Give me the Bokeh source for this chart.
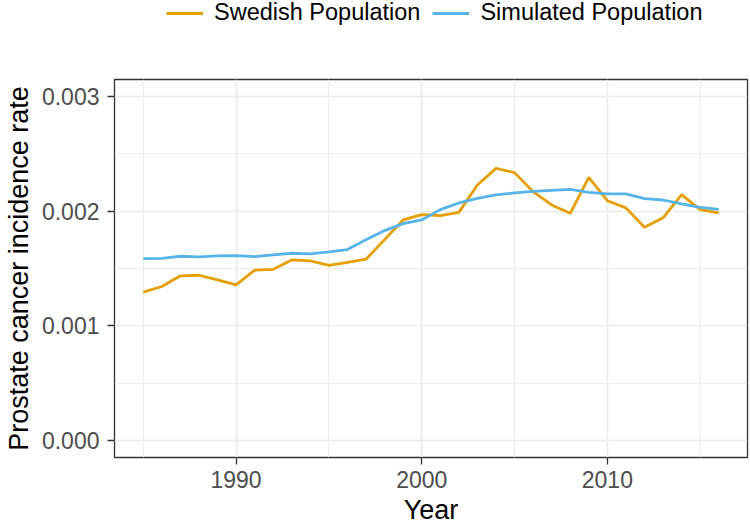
from bokeh.plotting import figure
from bokeh.layouts import column
from bokeh.models import (Legend, LegendItem, FixedTicker, PrintfTickFormatter,
                          Range1d, ColumnDataSource)
from bokeh.embed import file_html
from bokeh.resources import INLINE

years = list(range(1985, 2017))
swedish = [1.293, 1.343, 1.436, 1.441, 1.401, 1.357, 1.485, 1.493, 1.575, 1.567,
           1.528, 1.554, 1.581, 1.752, 1.924, 1.970, 1.962, 1.990, 2.229, 2.374,
           2.337, 2.171, 2.055, 1.982, 2.296, 2.092, 2.029, 1.860, 1.942, 2.145,
           2.014, 1.985]
simulated = [1.587, 1.589, 1.607, 1.602, 1.610, 1.613, 1.604, 1.619, 1.633, 1.628,
             1.645, 1.665, 1.752, 1.831, 1.892, 1.924, 2.014, 2.072, 2.112, 2.142,
             2.160, 2.173, 2.182, 2.191, 2.165, 2.151, 2.151, 2.110, 2.098, 2.064,
             2.034, 2.017]
swedish = [v / 1000 for v in swedish]
simulated = [v / 1000 for v in simulated]

series_names = ["Swedish Population", "Simulated Population"]
series_colors = ["#E69F00", "#56B4E9"]

x_ticks = [1990, 2000, 2010]
x_minor = [1985, 1995, 2005, 2015]
y_ticks = [0.000, 0.001, 0.002, 0.003]
y_minor = [0.0005, 0.0015, 0.0025]

FONT = "Liberation Sans"
LW = 2.8
LEG_H = 30

src = ColumnDataSource(dict(year=years, swedish=swedish, simulated=simulated))

# ---- main plot ----
p = figure(width=750, height=527 - LEG_H, output_backend="svg", toolbar_location=None,
           x_range=Range1d(1983.45, 2017.55), y_range=Range1d(-0.00015, 0.00315),
           min_border_left=114, min_border_right=3, min_border_top=79 - LEG_H,
           min_border_bottom=70, background_fill_color="white",
           border_fill_color="white")

p.line("year", "swedish", source=src, line_color=series_colors[0], line_width=LW)
p.line("year", "simulated", source=src, line_color=series_colors[1], line_width=LW)

p.outline_line_color = "#333333"
p.outline_line_width = 1.3

p.xaxis.ticker = FixedTicker(ticks=x_ticks, minor_ticks=x_minor)
p.yaxis.ticker = FixedTicker(ticks=y_ticks, minor_ticks=y_minor)
p.yaxis.formatter = PrintfTickFormatter(format="%.3f")

for ax in (p.xaxis[0], p.yaxis[0]):
    ax.axis_line_color = None
    ax.major_tick_line_color = "#333333"
    ax.major_tick_line_width = 1.3
    ax.major_tick_out = 7
    ax.major_tick_in = 0
    ax.minor_tick_line_color = None
    ax.major_label_text_font = FONT
    ax.major_label_text_font_size = "23px"
    ax.major_label_text_color = "#4D4D4D"
    ax.axis_label_text_font = FONT
    ax.axis_label_text_font_size = "27px"
    ax.axis_label_text_font_style = "normal"
    ax.axis_label_text_color = "black"

p.xaxis.major_label_text_line_height = 0.8
p.xaxis.axis_label_text_line_height = 0.8
p.yaxis.major_label_text_line_height = 1.0
p.yaxis.axis_label_text_line_height = 1.0

p.xaxis.axis_label = "Year"
p.yaxis.axis_label = "Prostate cancer incidence rate"
p.xaxis.major_label_standoff = 6
p.xaxis.axis_label_standoff = 4
p.yaxis.major_label_standoff = 8
p.yaxis.axis_label_standoff = 5

for g in (p.xgrid[0], p.ygrid[0]):
    g.grid_line_color = "#EBEBEB"
    g.grid_line_width = 1.7
    g.minor_grid_line_color = "#EBEBEB"
    g.minor_grid_line_width = 0.9

# ---- legend strip (series lines kept out of its view; only the legend shows) ----
lg = figure(width=750, height=LEG_H, output_backend="svg", toolbar_location=None,
            x_axis_type=None, y_axis_type=None, x_range=Range1d(0, 1),
            y_range=Range1d(0, 1), min_border=0, outline_line_color=None,
            background_fill_color="white", border_fill_color="white")
lg.grid.visible = False
l1 = lg.line("year", "swedish", source=src, line_color=series_colors[0], line_width=LW)
l2 = lg.line("year", "simulated", source=src, line_color=series_colors[1], line_width=LW)

legend = Legend(items=[LegendItem(label=series_names[0], renderers=[l1]),
                       LegendItem(label=series_names[1], renderers=[l2])],
                orientation="horizontal", location=(52, 4),
                glyph_width=37, glyph_height=20, label_standoff=11, spacing=12,
                padding=0, margin=0, border_line_color=None,
                background_fill_alpha=0, label_text_font=FONT,
                label_text_font_size="23.5px", label_text_color="black")
lg.add_layout(legend, "center")

layout = column(lg, p, spacing=0)
open("out.html", "w").write(file_html(layout, INLINE))
